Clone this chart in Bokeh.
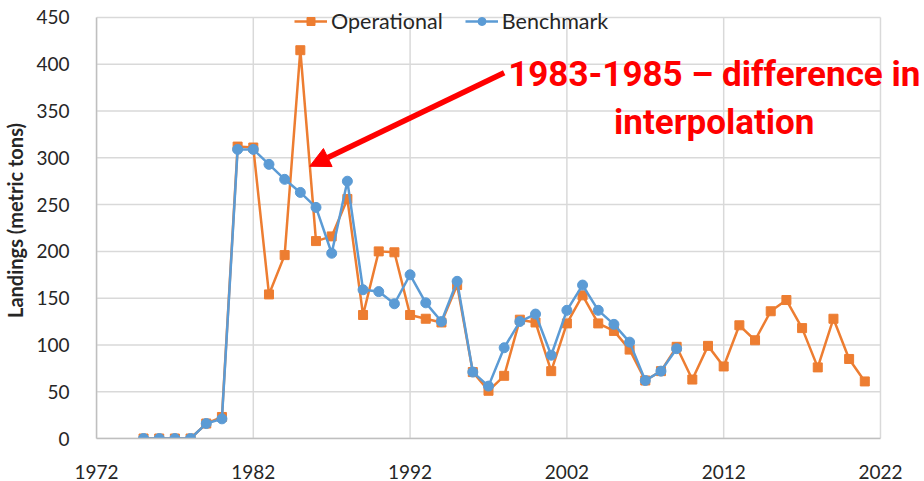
from bokeh.plotting import figure
from bokeh.models import (Legend, LegendItem, Arrow, NormalHead, Label,
                          FixedTicker, Range1d)
from bokeh.embed import file_html
from bokeh.resources import INLINE

# ---- data ----
years_operational = list(range(1975, 2022))
operational = [0, 0, 0, 0, 16, 23, 312, 311, 154, 196, 415, 211, 216, 256, 132, 200,
               199, 132, 128, 124, 164, 71, 51, 67, 127, 124, 72, 123, 153, 123, 115,
               95, 62, 72, 98, 63, 99, 77, 121, 105, 136, 148, 118, 76, 128, 85, 61]
years_benchmark = list(range(1975, 2010))
benchmark = [0, 0, 0, 0, 16, 21, 309, 309, 293, 277, 263, 247, 198, 275, 159, 157,
             144, 175, 145, 125, 168, 71, 56, 97, 125, 133, 89, 137, 164, 137, 122,
             103, 62, 72, 96]
x_ticks = [1972, 1982, 1992, 2002, 2012, 2022]
y_ticks = [0, 50, 100, 150, 200, 250, 300, 350, 400, 450]

annotation_line1 = "1983-1985 \u2013 difference in"
annotation_line2 = "interpolation"
# annotation anchor positions (data units)
arrow_start = (1998.0, 391.0)
arrow_end = (1985.6, 291.0)
label1_pos = (2011.4, 389.0)
label2_pos = (2011.4, 338.0)

ORANGE = "#ED7D31"
BLUE = "#5B9BD5"
GRID = "#D9D9D9"
FONT = "Lato"

# the frame is a little larger than the axes' extent so that the legend and the
# annotation (which overhang the plot area in the original) are not clipped
p = figure(width=924, height=481, output_backend="svg", toolbar_location=None,
           x_range=Range1d(1972, 2024.68), y_range=Range1d(0, 466.0),
           min_border_left=95, min_border_right=2, min_border_top=2, min_border_bottom=43,
           background_fill_color="white", border_fill_color="white")
p.outline_line_color = None
p.xgrid.visible = False
p.ygrid.visible = False

# gridlines limited to the axes' extent
p.segment(x0=x_ticks, y0=[y_ticks[0]] * len(x_ticks), x1=x_ticks, y1=[y_ticks[-1]] * len(x_ticks),
          line_color=GRID, line_width=1.5)
p.segment(x0=[x_ticks[0]] * len(y_ticks), y0=y_ticks, x1=[x_ticks[-1]] * len(y_ticks), y1=y_ticks,
          line_color=GRID, line_width=1.5)

p.xaxis.ticker = FixedTicker(ticks=x_ticks)
p.yaxis.ticker = FixedTicker(ticks=y_ticks)
p.xaxis.bounds = (x_ticks[0], x_ticks[-1])
p.yaxis.bounds = (y_ticks[0], y_ticks[-1])

for ax in (p.xaxis, p.yaxis):
    ax.major_tick_line_color = None
    ax.minor_tick_line_color = None
    ax.axis_line_color = "#BFBFBF"
    ax.axis_line_width = 1.5
    ax.major_label_text_font = FONT
    ax.major_label_text_font_size = "19px"
    ax.major_label_text_color = "#262626"

p.xaxis.major_label_standoff = 20
p.yaxis.major_label_standoff = 21
p.yaxis.axis_label = "Landings (metric tons)"
p.yaxis.axis_label_text_font = FONT
p.yaxis.axis_label_text_font_size = "20px"
p.yaxis.axis_label_text_font_style = "bold"
p.yaxis.axis_label_text_color = "#262626"
p.yaxis.axis_label_standoff = 6

op_line = p.line(years_operational, operational, line_color=ORANGE, line_width=2.5)
op_pts = p.scatter(years_operational, operational, marker="square", size=9,
                   fill_color=ORANGE, line_color=ORANGE)
bm_line = p.line(years_benchmark, benchmark, line_color=BLUE, line_width=2.5)
bm_pts = p.scatter(years_benchmark, benchmark, marker="circle", size=10,
                   fill_color=BLUE, line_color=BLUE)

legend = Legend(items=[LegendItem(label="Operational", renderers=[op_line, op_pts]),
                       LegendItem(label="Benchmark", renderers=[bm_line, bm_pts])],
                orientation="horizontal", location=(198, 404),
                background_fill_alpha=0, border_line_color=None,
                label_text_font=FONT, label_text_font_size="21.5px",
                label_text_color="#262626", glyph_width=33, spacing=22,
                label_standoff=4, padding=2, margin=0)
p.add_layout(legend)

p.add_layout(Arrow(end=NormalHead(size=20, fill_color="red", line_color="red"),
                   x_start=arrow_start[0], y_start=arrow_start[1],
                   x_end=arrow_end[0], y_end=arrow_end[1],
                   line_color="red", line_width=5.5))

for txt, pos in ((annotation_line1, label1_pos), (annotation_line2, label2_pos)):
    p.add_layout(Label(x=pos[0], y=pos[1], text=txt, text_align="center",
                       text_baseline="alphabetic", text_color="red",
                       text_font="Roboto", text_font_style="bold",
                       text_font_size="35px"))

open("out.html", "w").write(file_html(p, INLINE))
